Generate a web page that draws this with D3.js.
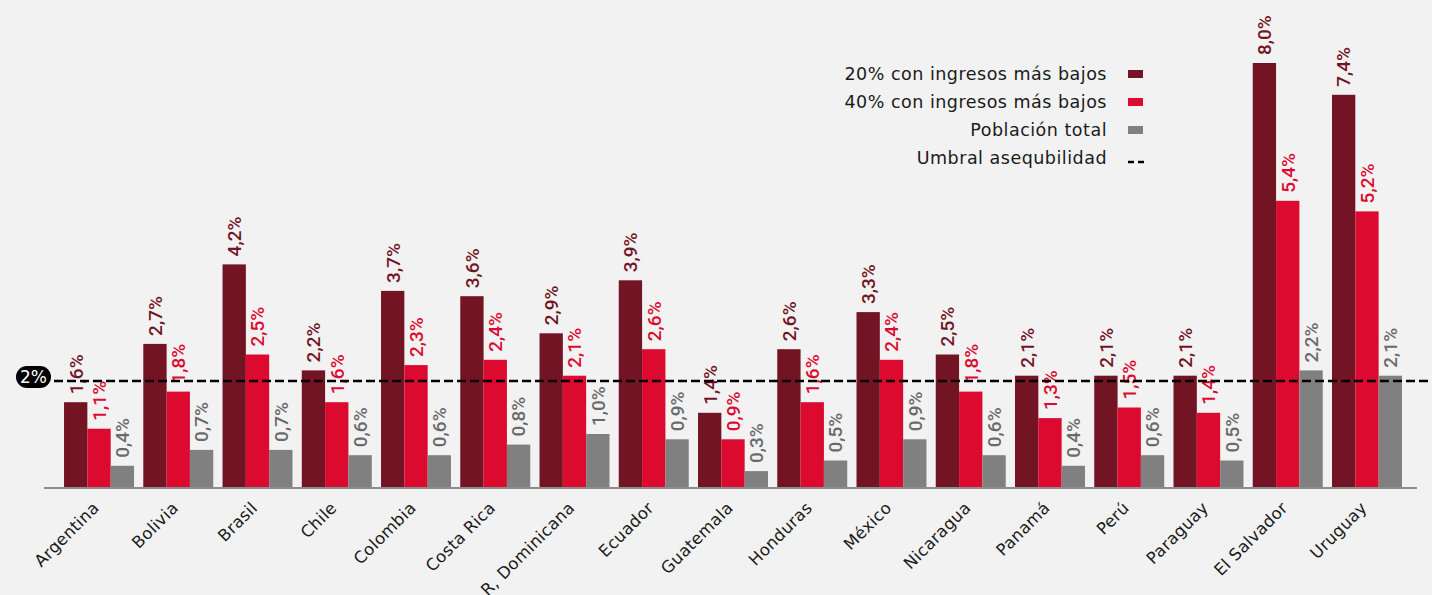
<!DOCTYPE html>
<html>
<head>
<meta charset="utf-8">
<script src="https://cdn.jsdelivr.net/npm/d3@7"></script>
<style>
  html, body { margin: 0; padding: 0; background: #f2f2f2; }
  svg { display: block; }
</style>
</head>
<body>
<div id="chart"></div>
<script>
const countries = ["Argentina","Bolivia","Brasil","Chile","Colombia","Costa Rica","R, Dominicana","Ecuador","Guatemala","Honduras","México","Nicaragua","Panamá","Perú","Paraguay","El Salvador","Uruguay"];
const low20 = [1.6,2.7,4.2,2.2,3.7,3.6,2.9,3.9,1.4,2.6,3.3,2.5,2.1,2.1,2.1,8.0,7.4];
const low40 = [1.1,1.8,2.5,1.6,2.3,2.4,2.1,2.6,0.9,1.6,2.4,1.8,1.3,1.5,1.4,5.4,5.2];
const total = [0.4,0.7,0.7,0.6,0.6,0.8,1.0,0.9,0.3,0.5,0.9,0.6,0.4,0.6,0.5,2.2,2.1];
const seriesNames = ["20% con ingresos más bajos","40% con ingresos más bajos","Población total"];
const thresholdLabel = "Umbral asequbilidad";
const threshold = 2;

const W = 1432, H = 595;
const colors = ["#731424", "#dd0a2f", "#808080"];
const labelColors = ["#731424", "#dd0a2f", "#6a6a6a"];
const series = [low20, low40, total];

const svg = d3.select("#chart").append("svg").attr("width", W).attr("height", H);
svg.append("rect").attr("width", W).attr("height", H).attr("fill", "#f2f2f2");

const x0 = d3.scaleBand().domain(countries).range([59.4, 1406.6]).paddingInner(0.117).paddingOuter(0.0585);
const x1 = d3.scaleBand().domain([0,1,2]).range([0, x0.bandwidth()]);
const y = d3.scaleLinear().domain([0, 8]).range([487, 63]);

// axis baseline
svg.append("line").attr("x1", 44).attr("x2", 1417).attr("y1", y(0) + 1).attr("y2", y(0) + 1)
  .attr("stroke", "#8c8c8c").attr("stroke-width", 2);

const groups = svg.selectAll("g.grp").data(countries).enter().append("g")
  .attr("class", "grp")
  .attr("transform", d => `translate(${x0(d)},0)`);

series.forEach((vals, si) => {
  groups.append("rect")
    .attr("x", x1(si))
    .attr("width", x1.bandwidth())
    .attr("y", (d, i) => y(vals[i]))
    .attr("height", (d, i) => y(0) - y(vals[i]))
    .attr("fill", colors[si]);
});

// threshold dashed line (over bars)
svg.append("line").attr("x1", 54).attr("x2", W).attr("y1", y(threshold)).attr("y2", y(threshold))
  .attr("stroke", "#000").attr("stroke-width", 2.6).attr("stroke-dasharray", "9,4");
svg.append("rect").attr("x", 16).attr("y", y(threshold) - 15).attr("width", 35).attr("height", 22).attr("rx", 11)
  .attr("fill", "#000");
svg.append("text").attr("x", 33.5).attr("y", y(threshold) - 4).attr("dy", "0.36em")
  .attr("text-anchor", "middle").attr("fill", "#fff")
  .attr("font-family", "'DejaVu Sans', sans-serif").attr("font-size", 17)
  .text(threshold + "%");

// value labels
series.forEach((vals, si) => {
  groups.append("text")
    .attr("transform", (d, i) => `translate(${x1(si) + x1.bandwidth() / 2},${y(vals[i]) - 8}) rotate(-90)`)
    .attr("dy", "0.36em")
    .attr("font-family", "Roboto, 'Liberation Sans', sans-serif")
    .attr("font-weight", 500)
    .attr("font-size", 19)
    .attr("fill", labelColors[si])
    .text((d, i) => d3.format(".1f")(vals[i]).replace(".", ",") + "%");
});

// x labels
svg.append("g").selectAll("text").data(countries).enter().append("text")
  .attr("transform", d => `translate(${x0(d) + x0.bandwidth() / 2 + 1},${509}) rotate(-45)`)
  .attr("text-anchor", "end")
  .attr("font-family", "'DejaVu Sans', sans-serif")
  .attr("font-size", 16.5)
  .attr("letter-spacing", 0.3)
  .attr("fill", "#1a1a1a")
  .text(d => d);

// legend
const legendRows = seriesNames.concat([thresholdLabel]);
const lg = svg.append("g");
legendRows.forEach((name, i) => {
  const cy = 74 + i * 28;
  lg.append("text").attr("x", 1107).attr("y", cy).attr("dy", "0.35em")
    .attr("text-anchor", "end")
    .attr("font-family", "'DejaVu Sans', sans-serif")
    .attr("font-size", 17.5)
    .attr("letter-spacing", 0.5)
    .attr("fill", "#1a1a1a")
    .text(name);
  if (i < 3) {
    lg.append("rect").attr("x", 1128).attr("y", cy - 4).attr("width", 15).attr("height", 8).attr("fill", colors[i]);
  } else {
    lg.append("line").attr("x1", 1128).attr("x2", 1144).attr("y1", cy + 4).attr("y2", cy + 4)
      .attr("stroke", "#000").attr("stroke-width", 2.4).attr("stroke-dasharray", "6,4");
  }
});
</script>
</body>
</html>
